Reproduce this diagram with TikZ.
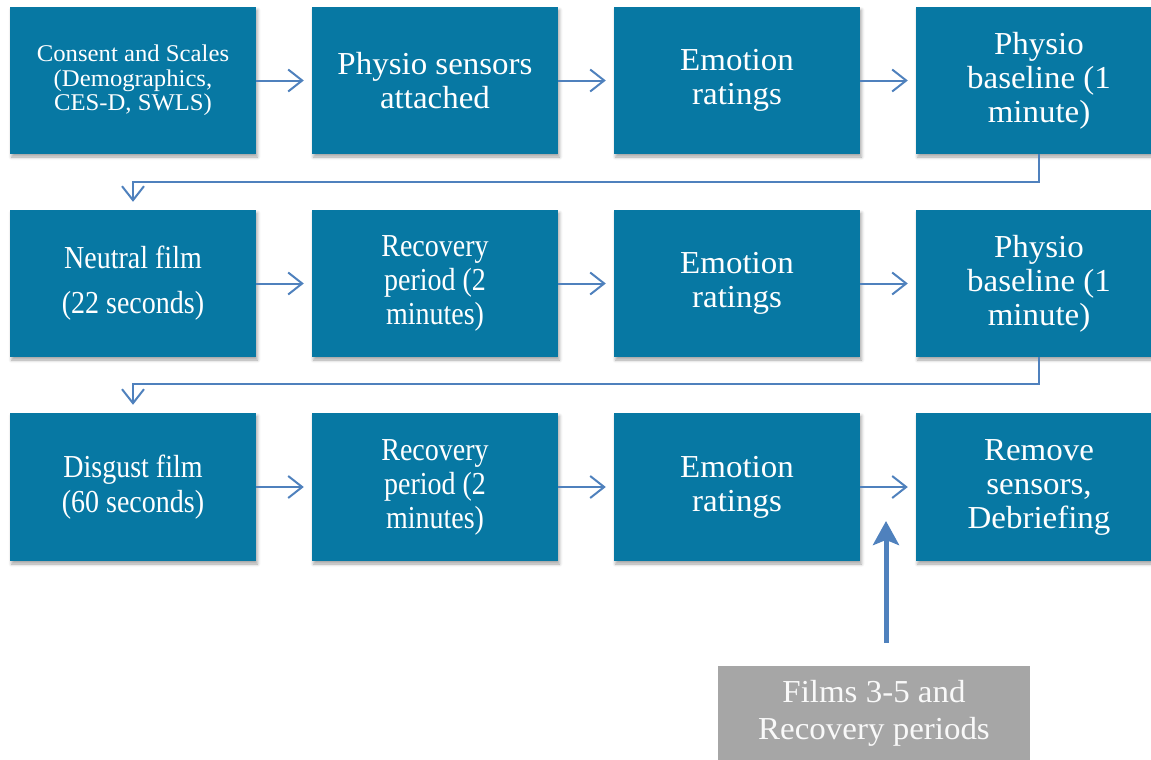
\documentclass[tikz,border=0pt]{standalone}
\usepackage{fontspec}
\setmainfont{Liberation Serif}
\newfontfamily\widefont{Liberation Serif}[FakeStretch=1.03]
\newfontfamily\narrowfont{Liberation Serif}[FakeStretch=0.875]
\usetikzlibrary{arrows.meta,shadows.blur}
\definecolor{boxblue}{RGB}{7,120,163}
\definecolor{arrowblue}{RGB}{79,129,189}
\definecolor{boxgray}{RGB}{166,166,166}
\begin{document}
\begin{tikzpicture}[x=1pt,y=-1pt,
  stepbox/.style={fill=boxblue, minimum width=246pt, minimum height=147pt,
    text=white, align=center, inner sep=0pt,
    font=\widefont\fontsize{32}{34}\selectfont,
    blur shadow={shadow xshift=1.5pt, shadow yshift=-3pt, shadow blur radius=3pt, shadow opacity=35}},
  narrow/.style={font=\narrowfont\fontsize{32}{34}\selectfont},
  flow/.style={draw=arrowblue, line width=2pt,
    -{Straight Barb[length=14pt,width=22pt,line width=2pt]}},
  bigflow/.style={draw=arrowblue, line width=5pt,
    -{Stealth[length=24pt,width=26pt,inset=5pt]}},
  notebox/.style={fill=boxgray, minimum width=312pt, minimum height=94pt,
    text=white!95!gray, align=center, inner sep=0pt,
    font=\widefont\fontsize{32}{37}\selectfont}]
\useasboundingbox (0,0) rectangle (1151,760);
% row 1
\node[stepbox, font=\widefont\fontsize{24}{24.5}\selectfont] (a1) at (133,80.5) {Consent and Scales\\(Demographics,\\CES-D, SWLS)};
\node[stepbox] (a2) at (435,80.5) {Physio sensors\\attached};
\node[stepbox] (a3) at (737,80.5) {Emotion\\ratings};
\node[stepbox] (a4) at (1039,80.5) {Physio\\baseline (1\\minute)};
% row 2
\node[stepbox, font=\narrowfont\fontsize{32}{45}\selectfont] (b1) at (133,283.5) {Neutral film\\(22 seconds)};
\node[stepbox, narrow] (b2) at (435,283.5) {Recovery\\period (2\\minutes)};
\node[stepbox] (b3) at (737,283.5) {Emotion\\ratings};
\node[stepbox] (b4) at (1039,283.5) {Physio\\baseline (1\\minute)};
% row 3
\node[stepbox, minimum height=148pt, font=\narrowfont\fontsize{32}{35}\selectfont] (c1) at (133,487) {Disgust film\\(60 seconds)};
\node[stepbox, narrow, minimum height=148pt] (c2) at (435,487) {Recovery\\period (2\\minutes)};
\node[stepbox, minimum height=148pt] (c3) at (737,487) {Emotion\\ratings};
\node[stepbox, minimum height=148pt] (c4) at (1039,487) {Remove\\sensors,\\Debriefing};
% note
\node[notebox] (g) at (874,713) {Films 3-5 and\\Recovery periods};
\coordinate (tip) at (886,521);
% connectors
\foreach \p/\q in {a1/a2,a2/a3,a3/a4,b1/b2,b2/b3,b3/b4,c1/c2,c2/c3,c3/c4}
  \draw[flow, shorten >=8pt] (\p.east) -- (\q.west);
\draw[flow] (a4.south) -- ++(0,28) -| ([yshift=8pt]b1.north);
\draw[flow] (b4.south) -- ++(0,27) -| ([yshift=8pt]c1.north);
\draw[bigflow] ([xshift=12pt,yshift=23pt]g.north) -- (tip);
\end{tikzpicture}
\end{document}
